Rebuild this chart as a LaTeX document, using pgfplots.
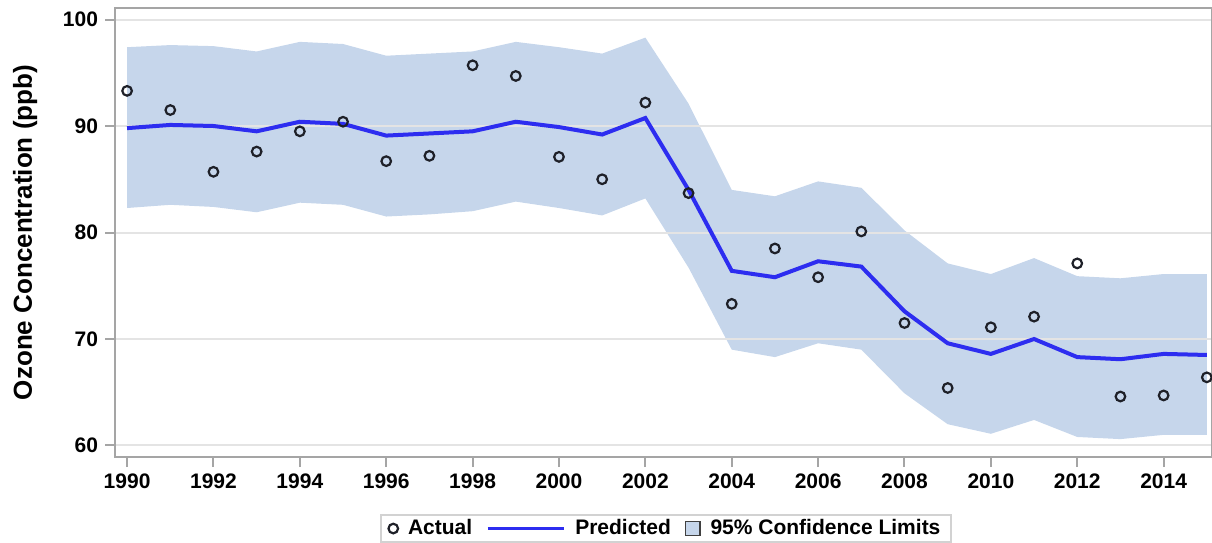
\documentclass[border=0pt]{standalone}
\usepackage{fontspec}
\setmainfont{Liberation Sans}
\usepackage{pgfplots}
\usepackage{pgfplotstable}
\pgfplotsset{compat=1.18}
\usepgfplotslibrary{fillbetween}

\definecolor{bandfill}{RGB}{198,214,235}
\definecolor{predline}{RGB}{45,45,240}
\definecolor{axisgray}{RGB}{165,165,165}
\definecolor{gridgray}{RGB}{228,228,228}
\definecolor{markgray}{RGB}{30,32,40}

% year, observed, model prediction, 95% limits
\pgfplotstableread{
year actual pred lower upper
1990 93.3 89.8  82.3 97.4
1991 91.5 90.1  82.6 97.6
1992 85.7 90.0  82.4 97.5
1993 87.6 89.5  81.9 97.0
1994 89.5 90.4  82.8 97.9
1995 90.4 90.2  82.6 97.7
1996 86.7 89.1  81.5 96.6
1997 87.2 89.3  81.7 96.8
1998 95.7 89.5  82.0 97.0
1999 94.7 90.4  82.9 97.9
2000 87.1 89.9  82.3 97.4
2001 85.0 89.2  81.6 96.8
2002 92.2 90.75 83.2 98.3
2003 83.7 84.0  76.7 92.1
2004 73.3 76.4  69.0 84.0
2005 78.5 75.8  68.3 83.4
2006 75.8 77.3  69.6 84.8
2007 80.1 76.8  69.0 84.2
2008 71.5 72.6  64.9 80.2
2009 65.4 69.6  62.0 77.1
2010 71.1 68.6  61.1 76.1
2011 72.1 70.0  62.4 77.6
2012 77.1 68.3  60.8 75.9
2013 64.6 68.1  60.6 75.7
2014 64.7 68.6  61.0 76.1
2015 66.4 68.5  61.0 76.1
}\ozone

\begin{document}
\begin{tikzpicture}
\begin{axis}[
    at={(0pt,0pt)}, anchor=south west,
    scale only axis,
    width=548.5pt, height=224.5pt,
    set layers,
    xmin=1989.72, xmax=2015.12,
    ymin=58.92, ymax=101.08,
    xtick={1990,1992,...,2014},
    ytick={60,70,...,100},
    tick align=outside,
    xtick pos=lower, ytick pos=left,
    major tick length=5pt,
    tick style={axisgray, line width=1pt},
    axis line style={axisgray, line width=1pt},
    ymajorgrids,
    major grid style={gridgray, line width=1pt},
    ticklabel style={font=\bfseries\fontsize{10.5}{12}\selectfont},
    /pgf/number format/assume math mode=true,
    /pgf/number format/1000 sep={},
    ylabel={Ozone Concentration (ppb)},
    every axis y label/.style={at={(axis description cs:-0.082,0.5)},
        rotate=90, anchor=center,
        font=\bfseries\fontsize{13}{15}\selectfont},
    legend columns=-1,
    legend style={at={(axis description cs:0.5027,-0.127)}, anchor=north,
        draw=gray!35, line width=1pt, inner xsep=3.5pt, inner ysep=0.2pt,
        font=\bfseries\fontsize{10.5}{12}\selectfont,
        /tikz/every odd column/.append style={column sep=3pt},
        /tikz/every even column/.append style={column sep=5pt}},
]
\addplot[name path=upper, draw=none, forget plot] table[x=year, y=upper] {\ozone};
\addplot[name path=lower, draw=none, forget plot] table[x=year, y=lower] {\ozone};

\addplot[only marks, mark=o, mark size=2.4pt,
    mark options={draw=markgray, line width=1.1pt},
    legend image code/.code={\draw plot[mark=o, mark size=2.4pt,
        mark options={draw=markgray, line width=1.1pt}] coordinates {(2.5pt,0pt)};}]
    table[x=year, y=actual] {\ozone};
\addlegendentry{Actual}

\addplot[predline, line width=2pt, no marks,
    legend image code/.code={\draw[predline, line width=1.5pt] (0pt,0pt) -- (38pt,0pt);}]
    table[x=year, y=pred] {\ozone};
\addlegendentry{Predicted}

\addplot[fill=bandfill, draw=none,
    legend image code/.code={\draw[fill=bandfill, draw=black!75, line width=0.6pt] (0pt,-3.6pt) rectangle (7.2pt,3.6pt);}]
    fill between[of=upper and lower, on layer=axis background];
\addlegendentry{95\% Confidence Limits}
\end{axis}
\pgfresetboundingbox
\path[use as bounding box] (-57.5pt,-42.5pt) rectangle (548.5pt,228.5pt);
\end{tikzpicture}
\end{document}
